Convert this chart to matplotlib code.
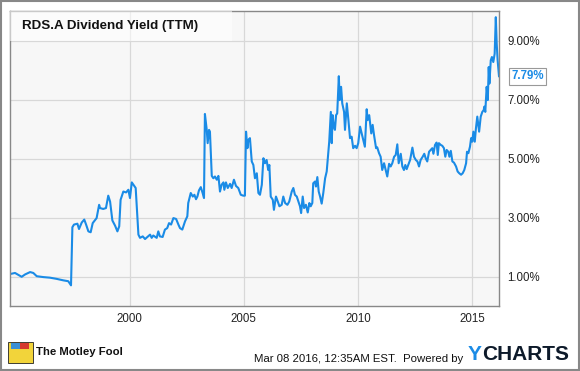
import numpy as np
import matplotlib
matplotlib.use("Agg")
import matplotlib.pyplot as plt
from matplotlib.patches import Rectangle

plt.rcParams['font.family'] = ['Liberation Sans', 'DejaVu Sans']

# RDS.A dividend yield (TTM)
years = [1994.81, 1994.99, 1995.28, 1995.43, 1995.65, 1995.79, 1995.94, 1996.23, 1996.52, 1996.81,
         1997.10, 1997.32, 1997.44, 1997.50, 1997.57, 1997.72, 1997.79, 1997.91, 1998.02, 1998.10,
         1998.20, 1998.30, 1998.39, 1998.56, 1998.67, 1998.71, 1998.85, 1998.97, 1999.07, 1999.15,
         1999.25, 1999.37, 1999.47, 1999.55, 1999.61, 1999.73, 1999.85, 1999.95, 2000.02, 2000.10,
         2000.17, 2000.27, 2000.39, 2000.46, 2000.58, 2000.68, 2000.90, 2000.97, 2001.04, 2001.19,
         2001.26, 2001.33, 2001.45, 2001.55, 2001.65, 2001.73, 2001.82, 2001.92, 2002.04, 2002.14,
         2002.21, 2002.31, 2002.43, 2002.53, 2002.57, 2002.68, 2002.77, 2002.84, 2002.91, 2002.97,
         2003.04, 2003.12, 2003.20, 2003.26, 2003.30, 2003.38, 2003.42, 2003.48, 2003.52, 2003.60,
         2003.67, 2003.74, 2003.82, 2003.89, 2003.96, 2004.03, 2004.11, 2004.15, 2004.22, 2004.30,
         2004.40, 2004.47, 2004.57, 2004.66, 2004.76, 2004.87, 2004.98, 2005.05, 2005.10, 2005.16,
         2005.20, 2005.27, 2005.35, 2005.42, 2005.49, 2005.57, 2005.64, 2005.71, 2005.79, 2005.86,
         2005.93, 2006.00, 2006.07, 2006.12, 2006.18, 2006.27, 2006.32, 2006.41, 2006.49, 2006.56,
         2006.66, 2006.73, 2006.81, 2006.91, 2006.99, 2007.10, 2007.17, 2007.24, 2007.32, 2007.39,
         2007.46, 2007.51, 2007.58, 2007.64, 2007.72, 2007.80, 2007.87, 2007.93, 2008.00, 2008.04,
         2008.12, 2008.16, 2008.22, 2008.28, 2008.34, 2008.41, 2008.48, 2008.56, 2008.63, 2008.70,
         2008.74, 2008.81, 2008.85, 2008.89, 2008.94, 2008.99, 2009.04, 2009.09, 2009.16, 2009.20,
         2009.26, 2009.31, 2009.39, 2009.43, 2009.51, 2009.58, 2009.65, 2009.72, 2009.79, 2009.87,
         2009.94, 2010.01, 2010.09, 2010.16, 2010.23, 2010.30, 2010.38, 2010.42, 2010.49, 2010.58,
         2010.64, 2010.70, 2010.79, 2010.84, 2010.92, 2010.99, 2011.06, 2011.14, 2011.21, 2011.28,
         2011.36, 2011.43, 2011.50, 2011.58, 2011.65, 2011.72, 2011.78, 2011.87, 2011.94, 2012.01,
         2012.07, 2012.13, 2012.20, 2012.28, 2012.38, 2012.45, 2012.53, 2012.60, 2012.67, 2012.74,
         2012.83, 2012.90, 2012.96, 2013.03, 2013.11, 2013.18, 2013.25, 2013.30, 2013.37, 2013.44,
         2013.49, 2013.54, 2013.62, 2013.69, 2013.76, 2013.82, 2013.88, 2013.95, 2014.00, 2014.06,
         2014.13, 2014.20, 2014.29, 2014.36, 2014.43, 2014.51, 2014.58, 2014.65, 2014.73, 2014.77,
         2014.83, 2014.90, 2014.95, 2015.00, 2015.05, 2015.11, 2015.16, 2015.22, 2015.30, 2015.37,
         2015.44, 2015.50, 2015.53, 2015.57, 2015.63, 2015.68, 2015.72, 2015.75, 2015.81, 2015.86,
         2015.92, 2015.98, 2016.03, 2016.07, 2016.11, 2016.17]
yield_pct = [1.09, 1.12, 0.99, 1.07, 1.15, 1.12, 1.01, 0.98, 0.96, 0.92,
             0.87, 0.84, 0.70, 2.67, 2.76, 2.79, 2.61, 2.83, 2.93, 2.76,
             2.53, 2.50, 2.81, 2.98, 3.43, 3.32, 3.29, 3.32, 3.74, 3.54,
             2.90, 2.72, 2.53, 2.70, 3.60, 3.88, 3.85, 3.94, 3.66, 4.19,
             4.11, 4.00, 2.42, 2.31, 2.36, 2.27, 2.42, 2.31, 2.39, 2.31,
             2.53, 2.36, 2.34, 2.59, 2.64, 2.81, 2.76, 2.98, 2.95, 2.76,
             2.64, 2.59, 2.87, 3.04, 3.49, 3.83, 3.71, 3.77, 3.62, 3.71,
             3.92, 4.03, 3.83, 3.66, 6.51, 5.97, 5.52, 5.97, 5.91, 4.41,
             4.33, 4.39, 4.28, 4.41, 3.88, 4.11, 4.19, 3.94, 4.19, 4.00,
             4.14, 4.00, 4.28, 4.07, 4.00, 3.77, 3.74, 3.74, 5.91, 5.35,
             5.63, 5.69, 4.90, 4.78, 4.33, 4.50, 3.83, 3.77, 4.11, 5.01,
             4.84, 4.95, 4.61, 4.78, 3.71, 3.60, 3.26, 3.71, 3.54, 3.38,
             3.43, 3.71, 3.49, 3.43, 3.54, 3.88, 4.00, 3.77, 3.71, 3.54,
             3.38, 3.15, 3.71, 3.32, 3.43, 3.17, 3.49, 3.38, 3.49, 4.16,
             4.22, 4.05, 4.37, 3.88, 3.71, 3.47, 3.83, 4.33, 4.56, 5.23,
             5.57, 6.58, 5.52, 6.47, 6.08, 5.97, 6.47, 6.53, 7.79, 6.98,
             7.43, 6.87, 6.58, 5.97, 6.87, 6.30, 5.69, 5.74, 5.35, 5.43,
             5.35, 5.52, 6.08, 5.85, 5.63, 5.40, 6.67, 6.30, 6.47, 5.85,
             6.14, 5.80, 5.35, 5.38, 5.18, 5.06, 4.61, 4.84, 4.61, 4.39,
             4.82, 4.73, 4.84, 5.06, 5.12, 5.48, 4.84, 5.16, 4.73, 4.61,
             4.78, 4.64, 4.78, 4.95, 5.37, 5.06, 4.95, 4.90, 4.73, 4.95,
             5.06, 5.16, 5.01, 4.90, 5.23, 5.29, 5.35, 5.16, 5.46, 5.54,
             5.12, 5.52, 5.46, 5.43, 5.35, 5.06, 5.29, 5.23, 5.06, 5.26,
             4.90, 4.86, 4.73, 4.56, 4.50, 4.45, 4.50, 4.61, 4.84, 5.23,
             5.18, 5.40, 5.69, 5.57, 5.91, 5.57, 6.02, 6.42, 5.91, 6.42,
             6.58, 6.64, 6.76, 6.58, 7.43, 6.98, 8.10, 7.54, 8.33, 8.44,
             8.27, 8.55, 9.79, 8.89, 8.33, 7.79]

x_ticks = [2000, 2005, 2010, 2015]
y_ticks = [1, 3, 5, 7, 9]
y_tick_labels = ["1.00%", "3.00%", "5.00%", "7.00%", "9.00%"]
title = "RDS.A Dividend Yield (TTM)"
last_label = "7.79%"

blue = "#1a8be6"
W, H = 580, 371
fig = plt.figure(figsize=(W / 100, H / 100), dpi=100)
fig.patch.set_facecolor("white")

ax = fig.add_axes([10 / W, 1 - 306 / H, 489 / W, 295 / H])
ax.set_facecolor("#f7f7f7")
ax.plot(years, yield_pct, color=blue, lw=1.5, solid_joinstyle="round")

ax.set_xlim(1994.77, 2016.17)
ax.set_ylim(0, 10)
ax.set_xticks(x_ticks)
ax.set_xticklabels([str(y) for y in x_ticks])
ax.set_yticks(y_ticks)
ax.set_yticklabels(y_tick_labels)
ax.yaxis.tick_right()
ax.tick_params(length=0, labelsize=8.3, colors="#222222", pad=6)
ax.tick_params(axis="x", pad=5)
ax.grid(True, color="#d8d8d8", lw=0.9)
ax.set_axisbelow(True)
for s in ax.spines.values():
    s.set_color("#888888")
    s.set_linewidth(1.0)

# title box
ax.add_patch(Rectangle((0, 0.9), 0.455, 0.1, transform=ax.transAxes,
                       facecolor="white", alpha=0.55, edgecolor="none", zorder=3))
ax.text(0.024, 0.95, title, transform=ax.transAxes, fontsize=9.6,
        fontweight="bold", color="#111111", va="center", ha="left", zorder=4)

# last value label
ax.annotate(last_label, xy=(years[-1], yield_pct[-1]), xytext=(9, 0),
            textcoords="offset points", ha="left", va="center",
            fontsize=8.3, fontweight="bold", color=blue, annotation_clip=False,
            bbox=dict(boxstyle="square,pad=0.2", fc="white", ec="#999999", lw=0.8))

# footer
fig.text(36 / W, 1 - 352 / H, "The Motley Fool", fontsize=8.2, fontweight="bold",
         color="#111111", va="center", ha="left")
fig.patches.append(Rectangle((8 / W, 1 - 363 / H), 25 / W, 21 / H, transform=fig.transFigure,
                             facecolor="#f2d43a", edgecolor="#222222", lw=0.6))
fig.patches.append(Rectangle((11 / W, 1 - 349 / H), 9 / W, 6 / H, transform=fig.transFigure,
                             facecolor="#3a8fd6", edgecolor="none"))
fig.patches.append(Rectangle((20 / W, 1 - 349 / H), 9 / W, 6 / H, transform=fig.transFigure,
                             facecolor="#d63a2f", edgecolor="none"))
fig.text(463 / W, 1 - 359 / H, "Mar 08 2016, 12:35AM EST.  Powered by", fontsize=8.2,
         color="#111111", va="center", ha="right")
fig.text(468 / W, 1 - 355 / H, "Y", fontsize=15, fontweight="bold",
         color="#1a8be6", va="center", ha="left")
fig.text(482 / W, 1 - 355 / H, "CHARTS", fontsize=15, fontweight="bold",
         color="#0d1a2a", va="center", ha="left")

# outer border
fig.patches.append(Rectangle((0.001, 0.002), 0.997, 0.995, transform=fig.transFigure,
                             facecolor="none", edgecolor="#888888", lw=1.5))

fig.savefig("out.png", dpi=100)
